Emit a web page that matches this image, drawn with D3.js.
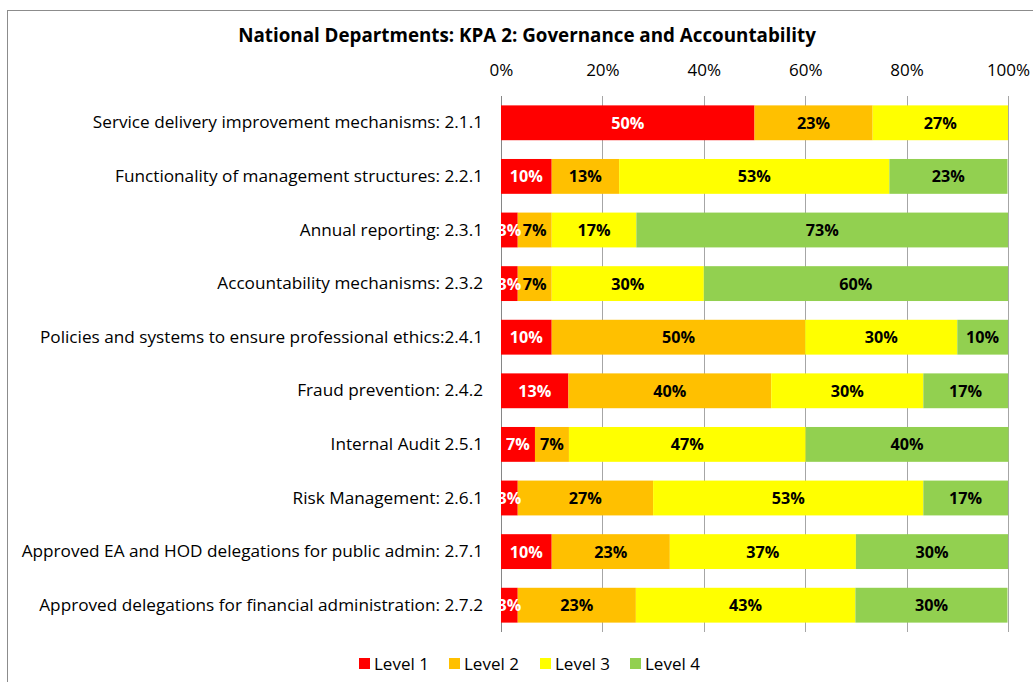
<!DOCTYPE html>
<html>
<head>
<meta charset="utf-8">
<script src="https://cdn.jsdelivr.net/npm/d3@7/dist/d3.min.js"></script>
<style>
  body { margin: 0; background: #fff; }
  svg text { font-family: "Open Sans", "Noto Sans", sans-serif; }
</style>
</head>
<body>
<div id="chart"></div>
<script>
var categories = [
	"Service delivery improvement mechanisms: 2.1.1",
	"Functionality of management structures:  2.2.1",
	"Annual reporting: 2.3.1",
	"Accountability mechanisms: 2.3.2",
	"Policies and systems to ensure professional ethics:2.4.1",
	"Fraud prevention: 2.4.2",
	"Internal Audit 2.5.1",
	"Risk Management: 2.6.1",
	"Approved EA and HOD delegations for public admin: 2.7.1",
	"Approved delegations for financial administration: 2.7.2"
];
var level1 = [50, 10, 3.3, 3.3, 10, 13.3, 6.7, 3.3, 10, 3.3];
var level2 = [23.3, 13.3, 6.7, 6.7, 50, 40, 6.7, 26.7, 23.3, 23.3];
var level3 = [26.7, 53.3, 16.7, 30, 30, 30, 46.7, 53.3, 36.7, 43.3];
var level4 = [0, 23.3, 73.3, 60, 10, 16.7, 40, 16.7, 30, 30];
var seriesNames = ["Level 1", "Level 2", "Level 3", "Level 4"];
var seriesColors = ["#FF0000", "#FFC000", "#FFFF00", "#92D050"];
var labelColors = ["#ffffff", "#000000", "#000000", "#000000"];
var tickValues = [0, 20, 40, 60, 80, 100];

function setChart(){
	var w = 1033;
	var h = 682;
	var left = 501, right = 1008, top = 96, bottom = 632;

	var svg = d3.select("#chart")
		.append("svg")
			.attr("width", w)
			.attr("height", h);

	// chart area border
	svg.append("rect")
		.attr("x", 7.5).attr("y", 10.5)
		.attr("width", 1040).attr("height", 700)
		.attr("fill", "none")
		.attr("stroke", "#8c8c8c");

	svg.append("text")
		.attr("x", 527).attr("y", 42)
		.attr("text-anchor", "middle")
		.attr("font-size", 18.8)
		.attr("font-weight", "bold")
		.attr("fill", "#000")
		.text("National Departments: KPA 2: Governance and Accountability");

	var x = d3.scaleLinear().domain([0, 100]).range([left, right]);
	var y = d3.scaleBand().domain(categories).range([top, bottom]).paddingInner(0.35).paddingOuter(0.175);

	// gridlines
	svg.selectAll("line.grid")
		.data(tickValues)
		.enter()
		.append("line")
			.attr("class", "grid")
			.attr("x1", function(d){ return Math.round(x(d)) + 0.5; })
			.attr("x2", function(d){ return Math.round(x(d)) + 0.5; })
			.attr("y1", top)
			.attr("y2", bottom)
			.attr("stroke", function(d){ return d == 0 ? "#868686" : "#a6a6a6"; })
			.attr("stroke-width", 1);

	// top axis labels
	var xAxis = d3.axisTop(x)
		.tickValues(tickValues)
		.tickSize(0)
		.tickPadding(0)
		.tickFormat(function(d){ return d + "%"; });
	var gx = svg.append("g")
		.attr("transform", "translate(0,76)")
		.call(xAxis);
	gx.select(".domain").remove();
	gx.selectAll("text")
		.attr("font-size", 17)
		.attr("fill", "#000")
		.style("font-family", "\"Open Sans\", sans-serif");

	// category labels
	var yAxis = d3.axisLeft(y).tickSize(0).tickPadding(0);
	var gy = svg.append("g")
		.attr("transform", "translate(483,0)")
		.call(yAxis);
	gy.select(".domain").remove();
	gy.selectAll("text")
		.attr("font-size", 17.2)
		.attr("fill", "#000")
		.style("font-family", "\"Open Sans\", sans-serif");

	var rows = categories.map(function(c, i){
		return { cat: c, l0: level1[i], l1: level2[i], l2: level3[i], l3: level4[i] };
	});
	var stack = d3.stack().keys(["l0", "l1", "l2", "l3"]);
	var series = stack(rows);

	var groups = svg.selectAll("g.series")
		.data(series)
		.enter()
		.append("g")
			.attr("class", "series")
			.attr("fill", function(d, i){ return seriesColors[i]; });

	groups.selectAll("rect")
		.data(function(d){ return d; })
		.enter()
		.append("rect")
			.attr("x", function(d){ return x(d[0]); })
			.attr("y", function(d){ return y(d.data.cat); })
			.attr("width", function(d){ return x(d[1]) - x(d[0]); })
			.attr("height", y.bandwidth());

	// labels on top of all bars
	series.forEach(function(s, si){
		svg.append("g")
			.selectAll("text")
			.data(s.filter(function(d){ return d[1] - d[0] > 0; }))
			.enter()
			.append("text")
				.attr("x", function(d){ return (x(d[0]) + x(d[1])) / 2; })
				.attr("y", function(d){ return y(d.data.cat) + y.bandwidth() / 2 + 6; })
				.attr("text-anchor", "middle")
				.attr("font-size", 16.2)
				.attr("font-weight", "bold")
				.attr("fill", labelColors[si])
				.text(function(d){ return Math.round(d[1] - d[0]) + "%"; });
	});

	// legend
	var legendX = [359, 449, 540, 630];
	var legend = svg.selectAll("g.legend")
		.data(seriesNames)
		.enter()
		.append("g")
			.attr("class", "legend")
			.attr("transform", function(d, i){ return "translate(" + legendX[i] + ",658)"; });
	legend.append("rect")
		.attr("width", 11).attr("height", 11)
		.attr("fill", function(d, i){ return seriesColors[i]; });
	legend.append("text")
		.attr("x", 15).attr("y", 11.5)
		.attr("font-size", 17)
		.attr("fill", "#000")
		.text(function(d){ return d; });
}
setChart();
</script>
</body>
</html>
